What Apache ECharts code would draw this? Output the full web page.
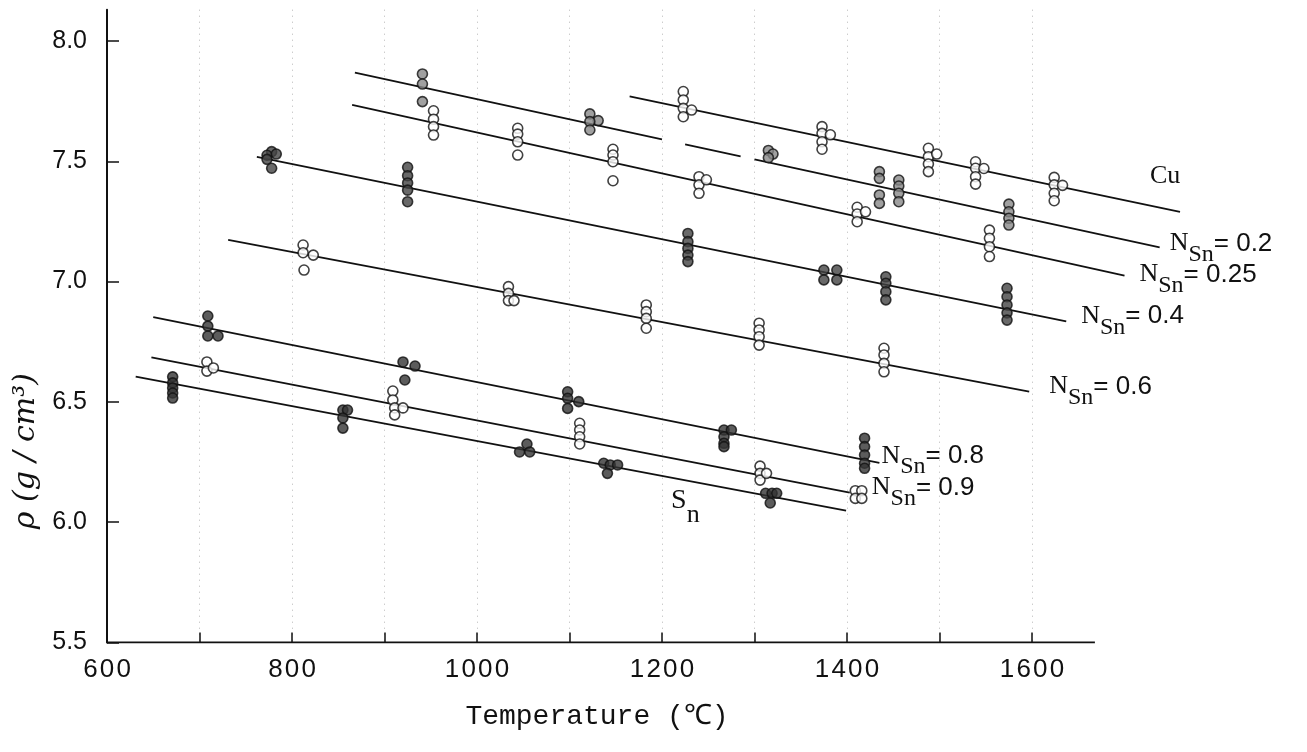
<!DOCTYPE html>
<html><head><meta charset="utf-8">
<script src="https://cdn.jsdelivr.net/npm/echarts@6/dist/echarts.min.js"></script>
<style>html,body{margin:0;padding:0;background:#fff}#c{width:1307px;height:752px}</style>
</head><body><div id="c"></div>
<script>
// ---- axis ticks / labels ----
const xTicks = [600,700,800,900,1000,1100,1200,1300,1400,1500,1600];
const xLabels = [600,800,1000,1200,1400,1600];
const yTicks = [5.5,6.0,6.5,7.0,7.5,8.0];

// ---- measured points (Temperature °C, density g/cm3) ----
const cuPoints = [[1223,7.79],[1223,7.755],[1223,7.72],[1223,7.685],[1232,7.713],
  [1373,7.644],[1373,7.616],[1373,7.581],[1373,7.55],[1382,7.61],
  [1488,7.554],[1488,7.519],[1488,7.489],[1488,7.457],[1497,7.53],
  [1539,7.498],[1539,7.471],[1539,7.436],[1539,7.405],[1548,7.47],
  [1624,7.433],[1624,7.402],[1624,7.367],[1624,7.336],[1633,7.40]];
const n02Points = [[941,7.863],[941,7.821],[941,7.748],
  [1122,7.697],[1131,7.669],[1122,7.665],[1122,7.630],
  [1315,7.545],[1320,7.53],[1315,7.515],
  [1435,7.457],[1435,7.429],[1435,7.36],[1435,7.325],
  [1456,7.422],[1456,7.397],[1456,7.367],[1456,7.332],
  [1575,7.322],[1575,7.29],[1575,7.263],[1575,7.235]];
const n025Points = [[953,7.710],[953,7.675],[953,7.644],[953,7.609],
  [1044,7.637],[1044,7.613],[1044,7.581],[1044,7.526],
  [1147,7.55],[1147,7.526],[1147,7.498],[1147,7.419],
  [1240,7.436],[1240,7.402],[1240,7.367],[1248,7.423],
  [1411,7.309],[1411,7.281],[1411,7.249],[1420,7.29],
  [1554,7.214],[1554,7.18],[1554,7.145],[1554,7.104]];
const n04Points = [[778,7.54],[773,7.525],[783,7.53],[773,7.508],[778,7.471],
  [925,7.475],[925,7.44],[925,7.41],[925,7.38],[925,7.332],
  [1228,7.2],[1228,7.166],[1228,7.138],[1228,7.11],[1228,7.083],
  [1375,7.048],[1389,7.048],[1375,7.007],[1389,7.007],
  [1442,7.02],[1442,6.993],[1442,6.958],[1442,6.924],
  [1573,6.972],[1573,6.937],[1573,6.903],[1573,6.87],[1573,6.84]];
const n06Points = [[812,7.152],[823,7.11],[812,7.12],[813,7.048],
  [1034,6.979],[1034,6.951],[1034,6.921],[1040,6.921],
  [1183,6.903],[1183,6.875],[1183,6.847],[1183,6.806],
  [1305,6.827],[1305,6.799],[1305,6.771],[1305,6.736],
  [1440,6.723],[1440,6.695],[1440,6.66],[1440,6.625]];
const n08Points = [[709,6.857],[709,6.815],[709,6.774],[720,6.774],
  [920,6.666],[933,6.649],[922,6.591],
  [1098,6.542],[1098,6.515],[1098,6.473],[1110,6.501],
  [1267,6.383],[1267,6.355],[1267,6.328],[1267,6.314],[1275,6.383],
  [1419,6.349],[1419,6.314],[1419,6.279],[1419,6.245],[1419,6.224]];
const n09Points = [[708,6.666],[708,6.628],[715,6.641],
  [909,6.545],[909,6.508],[911,6.475],[920,6.475],[911,6.446],
  [1111,6.411],[1111,6.383],[1111,6.355],[1111,6.325],
  [1306,6.233],[1306,6.203],[1306,6.175],[1313,6.203],
  [1409,6.131],[1416,6.131],[1409,6.099],[1416,6.099]];
const snPoints = [[671,6.604],[671,6.579],[671,6.558],[671,6.537],[671,6.516],
  [855,6.466],[860,6.466],[855,6.433],[855,6.391],
  [1054,6.325],[1046,6.292],[1057,6.292],
  [1137,6.245],[1144,6.238],[1152,6.238],[1141,6.203],
  [1312,6.12],[1319,6.12],[1324,6.12],[1317,6.08]];

// ---- fitted lines (end points) ----
const cuLine = [[1165,7.77],[1760,7.29]];
const n02LineA = [[868,7.868],[1200,7.591]];
const n02LineB = [[1225,7.570],[1285,7.520]];
const n02LineC = [[1300,7.508],[1738,7.142]];
const n025Line = [[865,7.734],[1700,7.025]];
const n04Line = [[762,7.518],[1637,6.835]];
const n06Line = [[731,7.173],[1597,6.543]];
const n08Line = [[650,6.852],[1435,6.247]];
const n09Line = [[648,6.685],[1403,6.123]];
const snLine = [[631,6.605],[1399,6.048]];
const xAxisLine = [[600,5.5],[1668,5.5]];

const labelCu = 'Cu';
const labelN = ['0.2','0.25','0.4','0.6','0.8','0.9'];

const richN = {
  n:{fontFamily:'Liberation Serif',fontSize:26,color:'#111',lineHeight:36,verticalAlign:'top'},
  s:{fontFamily:'Liberation Serif',fontSize:24,color:'#111',lineHeight:36,verticalAlign:'bottom'},
  v:{fontFamily:'Liberation Sans',fontSize:26,color:'#111',lineHeight:36,verticalAlign:'top'}
};
const richSn = {
  a:{fontFamily:'Liberation Serif',fontSize:28,color:'#111',lineHeight:42,verticalAlign:'top'},
  b:{fontFamily:'Liberation Serif',fontSize:26,color:'#111',lineHeight:42,verticalAlign:'bottom'}
};
function nLabel(v){ return '{n|N}{s|Sn}{v|= '+v+'}'; }

function lineSeries(data, label, offset, rich, width){
  const s = {type:'line', data:data, showSymbol:false, symbol:'none', silent:true,
    lineStyle:{color:'#111', width:width||1.8}, z:3};
  if(label){
    s.endLabel = {show:true, formatter:label, offset:offset, rich:rich||richN,
      fontFamily:'Liberation Serif', fontSize:26, color:'#111', distance:0};
  }
  return s;
}
function pts(data, fill){
  return {type:'scatter', data:data, symbol:'circle', symbolSize:10, z:4,
    itemStyle:{color:fill, borderColor:'#111', borderWidth:1.6}};
}

const chart = echarts.init(document.getElementById('c'), null, {renderer:'canvas'});
chart.setOption({
  animation:false,
  backgroundColor:'#fff',
  grid:{left:107, right:90, top:9.7, bottom:109.5, containLabel:false},
  xAxis:{type:'value', min:600, max:1800, interval:100,
    name:'Temperature (℃)', nameLocation:'middle', nameGap:60,
    nameTextStyle:{fontFamily:'Liberation Mono', fontSize:28, color:'#111', padding:[0,130,0,0]},
    axisLine:{show:false},
    axisTick:{show:true, inside:true, length:10, customValues:xTicks, lineStyle:{color:'#111', width:1.5}},
    axisLabel:{customValues:xLabels, margin:14, fontFamily:'Liberation Sans', fontSize:26, color:'#111',
      formatter:v=>String(v).split('').join('\u200A')},
    splitLine:{show:true, lineStyle:{type:[1,5], color:'#999', width:1, opacity:0.7}}
  },
  yAxis:{type:'value', min:5.5, max:8.13, interval:0.5,
    name:'ρ (g / cm³)', nameLocation:'middle', nameGap:56, nameRotate:90,
    nameTextStyle:{fontFamily:'DejaVu Serif', fontStyle:'italic', fontSize:30, color:'#111', padding:[0,250,0,0]},
    axisLine:{show:true, lineStyle:{color:'#111', width:2}},
    axisTick:{show:true, inside:true, length:12, customValues:yTicks, lineStyle:{color:'#111', width:1.5}},
    axisLabel:{customValues:yTicks, margin:20, fontFamily:'Liberation Sans', fontSize:25, color:'#111',
      formatter:v=>v.toFixed(1)},
    splitLine:{show:false}
  },
  series:[
    lineSeries(xAxisLine, null, null, null, 2),
    lineSeries(cuLine, labelCu, [-30,-36], {}),
    lineSeries(n02LineA), lineSeries(n02LineB),
    lineSeries(n02LineC, nLabel(labelN[0]), [10,1]),
    lineSeries(n025Line, nLabel(labelN[1]), [15,4]),
    lineSeries(n04Line, nLabel(labelN[2]), [15,0]),
    lineSeries(n06Line, nLabel(labelN[3]), [20,0]),
    lineSeries(n08Line, nLabel(labelN[4]), [2,-2]),
    lineSeries(n09Line, nLabel(labelN[5]), [22,0]),
    lineSeries(snLine, '{a|S}{b|n}', [-175,-3], richSn),
    pts(cuPoints,'#fff'), pts(n02Points,'#888'), pts(n025Points,'#fff'),
    pts(n04Points,'#444'), pts(n06Points,'#fff'), pts(n08Points,'#333'),
    pts(n09Points,'#fff'), pts(snPoints,'#333')
  ]
});
</script></body></html>
